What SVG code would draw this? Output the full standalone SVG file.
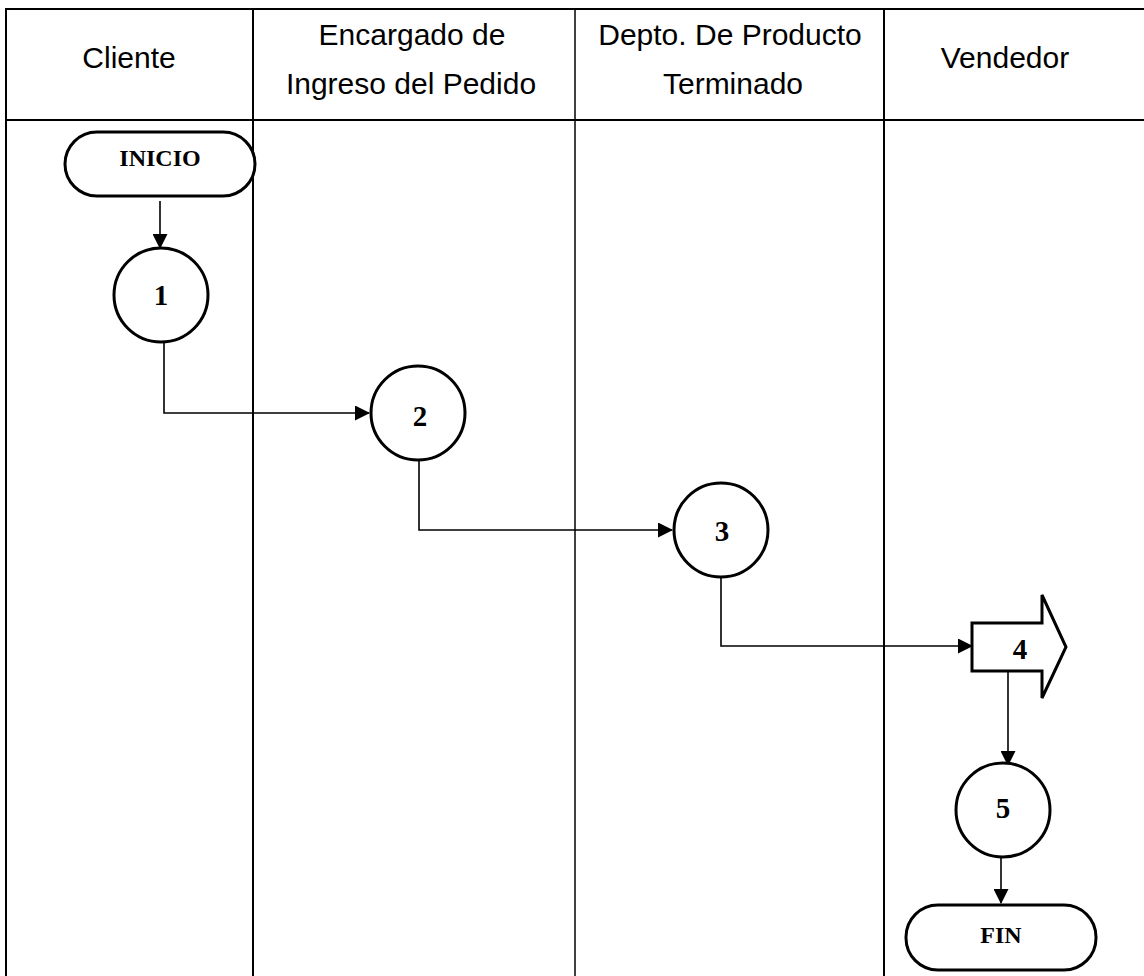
<svg xmlns="http://www.w3.org/2000/svg" width="1144" height="976" viewBox="0 0 1144 976">
<defs>
<marker id="ah" markerWidth="15" markerHeight="15" refX="14" refY="7.5" orient="auto" markerUnits="userSpaceOnUse">
<path d="M0,0 L15,7.5 L0,15 Z" fill="#000"/>
</marker>
<style>
.grid{stroke:#000;stroke-width:2;fill:none}
.hdr{font-family:"Liberation Sans",Arial,sans-serif;font-size:30px;fill:#000;text-anchor:middle}
.shape{fill:#fff;stroke:#000;stroke-width:3}
.lbl{font-family:"Liberation Serif","Times New Roman",serif;font-weight:bold;fill:#000;text-anchor:middle}
.conn{stroke:#000;stroke-width:1.6;fill:none}
</style>
</defs>
<rect width="1144" height="976" fill="#fff"/>
<g id="table">
<line class="grid" x1="6" y1="9" x2="1144" y2="9"/>
<line class="grid" x1="6" y1="120" x2="1144" y2="120"/>
<line class="grid" x1="6" y1="8" x2="6" y2="976"/>
<line class="grid" x1="253" y1="8" x2="253" y2="976"/>
<line class="grid" x1="575" y1="8" x2="575" y2="976" style="stroke-width:1.5"/>
<line class="grid" x1="884" y1="8" x2="884" y2="976"/>
</g>
<g id="headers">
<text class="hdr" x="129" y="68">Cliente</text>
<text class="hdr" x="412" y="45">Encargado de</text>
<text class="hdr" x="411" y="94">Ingreso del Pedido</text>
<text class="hdr" x="730" y="45">Depto. De Producto</text>
<text class="hdr" x="733" y="94">Terminado</text>
<text class="hdr" x="1005" y="68">Vendedor</text>
</g>
<g id="connectors">
<line class="conn" x1="160" y1="201" x2="160" y2="248" marker-end="url(#ah)"/>
<polyline class="conn" points="164,342 164,413 369,413" marker-end="url(#ah)"/>
<polyline class="conn" points="419,461 419,530 672,530" marker-end="url(#ah)"/>
<polyline class="conn" points="721,578 721,646 972,646" marker-end="url(#ah)"/>
<line class="conn" x1="1008" y1="671" x2="1008" y2="765" marker-end="url(#ah)"/>
<line class="conn" x1="1001" y1="858" x2="1001" y2="903" marker-end="url(#ah)"/>
</g>
<g id="inicio">
<rect class="shape" x="65" y="132" width="190" height="64" rx="32" ry="32"/>
<text class="lbl" x="160" y="166" font-size="24">INICIO</text>
</g>
<g id="n1">
<circle class="shape" cx="161" cy="295" r="47"/>
<text class="lbl" x="161" y="305" font-size="29">1</text>
</g>
<g id="n2">
<circle class="shape" cx="418" cy="413" r="47"/>
<text class="lbl" x="420" y="426" font-size="29">2</text>
</g>
<g id="n3">
<circle class="shape" cx="721" cy="530" r="47"/>
<text class="lbl" x="722" y="541" font-size="29">3</text>
</g>
<g id="n4">
<polygon class="shape" points="972,623 1042,623 1042,595 1066,647 1042,698 1042,671 972,671"/>
<text class="lbl" x="1020" y="659" font-size="29">4</text>
</g>
<g id="n5">
<circle class="shape" cx="1003" cy="810" r="47"/>
<text class="lbl" x="1003" y="818" font-size="29">5</text>
</g>
<g id="fin">
<rect class="shape" x="906" y="905" width="190" height="65" rx="32" ry="32"/>
<text class="lbl" x="1001" y="943" font-size="24">FIN</text>
</g>
</svg>
